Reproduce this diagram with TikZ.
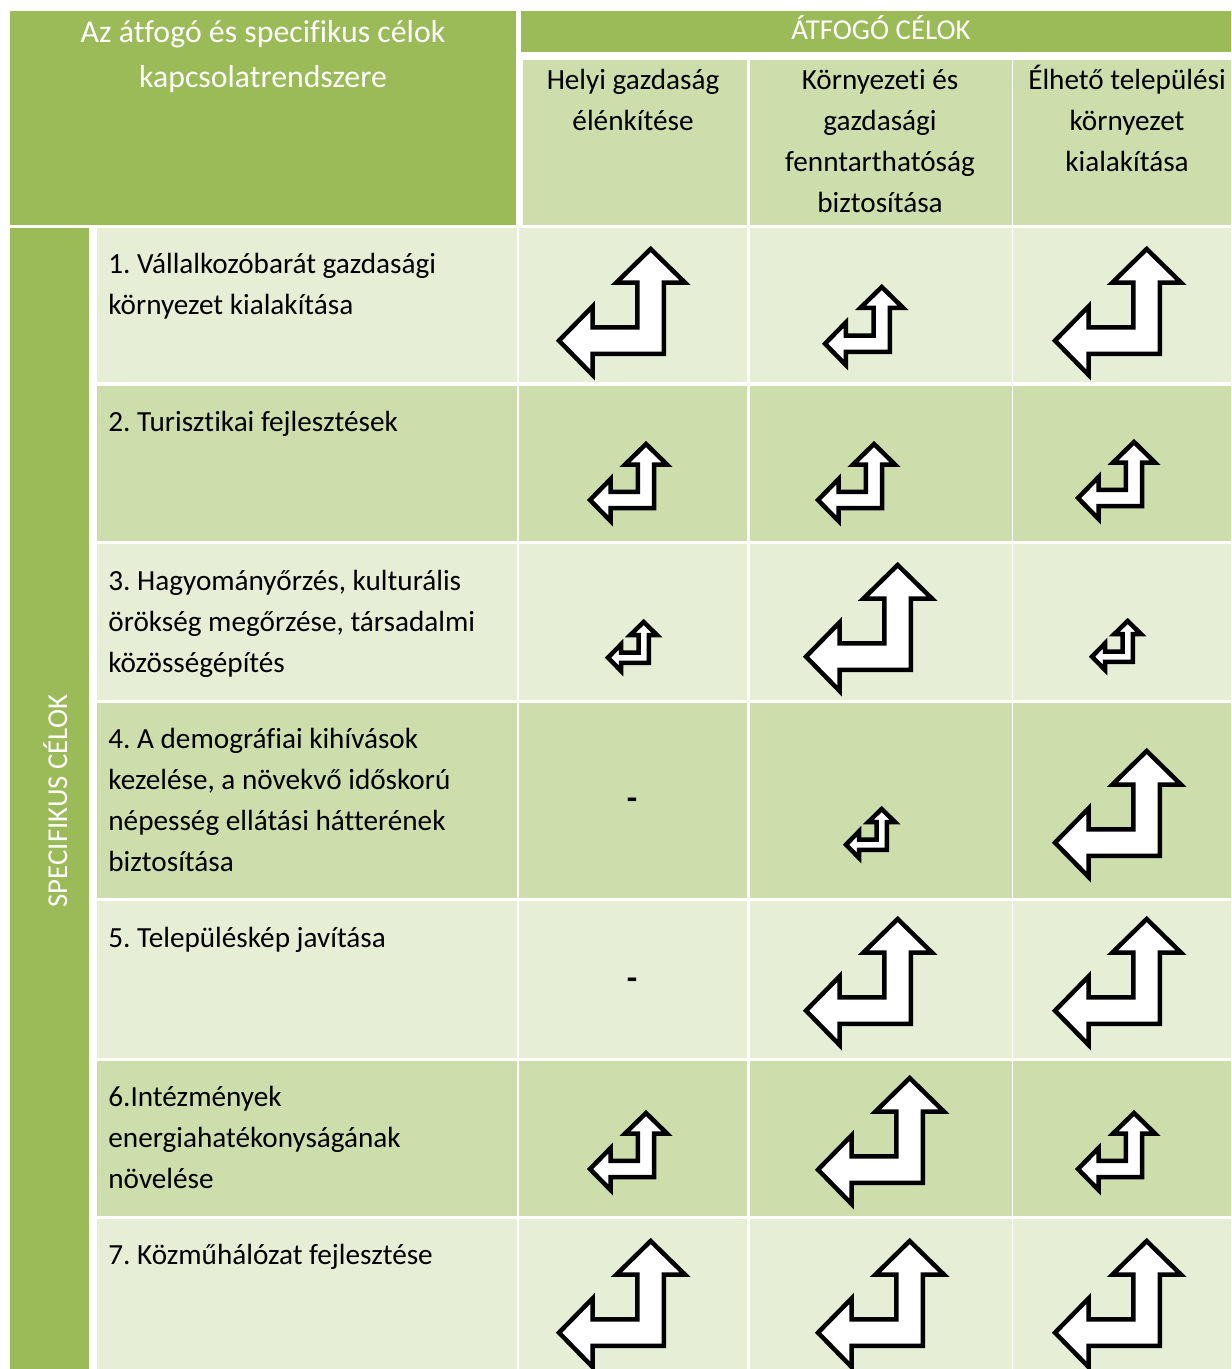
\documentclass[tikz,border=0pt]{standalone}
\usepackage{fontspec}
\setmainfont{Carlito}[RawFeature={-liga;-clig;-dlig;-calt}]
\frenchspacing
\definecolor{dkg}{HTML}{9BBB59}
\definecolor{mdg}{HTML}{CDDDAC}
\definecolor{ltg}{HTML}{E6EED5}
\tikzset{
  arrowshp/.style={draw=black, fill=white, line width=2.25pt, line join=miter},
  bodytxt/.style={font=\fontsize{14.6}{20.5}\selectfont, inner sep=0pt, align=left, anchor=north west, text=black},
  colhead/.style={font=\fontsize{14.6}{20.5}\selectfont, inner sep=0pt, align=center, anchor=north, text=black},
  maintitle/.style={font=\fontsize{15.9}{22.8}\selectfont, inner sep=0pt, align=center, anchor=north, text=white},
  bandtitle/.style={font=\fontsize{14.4}{18}\selectfont, inner sep=0pt, anchor=base, text=white},
  dashtxt/.style={font=\fontsize{17}{20.5}\selectfont\bfseries, inner sep=0pt, anchor=base, text=black}
}
\newcommand\luarrow[3]{%
  \begin{scope}[shift={(#1+3,#2+3)},scale=#3-6]
    \draw[arrowshp] (0,0.7275) -- (0.267,0.455) -- (0.267,0.6225) -- (0.6225,0.6225)
      -- (0.6225,0.267) -- (0.455,0.267) -- (0.7275,0) -- (1,0.267) -- (0.8325,0.267)
      -- (0.8325,0.8325) -- (0.267,0.8325) -- (0.267,1) -- cycle;
  \end{scope}}
\newcommand\tabrow[3]{%
  \fill[#3] (97,#1) rectangle (517,#2);
  \fill[#3] (519,#1) rectangle (747,#2);
  \fill[#3] (750,#1) rectangle (1012,#2);
  \fill[#3] (1013,#1) rectangle (1231,#2);}
\begin{document}
\begin{tikzpicture}[x=0.5pt,y=-0.5pt]
\useasboundingbox (0,0) rectangle (1231,1369);
\fill[white] (0,0) rectangle (1231,1369);
% header
\fill[dkg] (10,11) rectangle (516,225);
\fill[dkg] (521,11) rectangle (1231,52);
\fill[mdg] (523,60) rectangle (747,225);
\fill[mdg] (750,60) rectangle (1012,225);
\fill[mdg] (1013,60) rectangle (1231,225);
% left column
\fill[dkg] (10,228) rectangle (89,1369);
% rows
\tabrow{228}{382}{ltg}
\tabrow{386}{541}{mdg}
\tabrow{544}{700}{ltg}
\tabrow{703}{898}{mdg}
\tabrow{901}{1058}{ltg}
\tabrow{1061}{1216}{mdg}
\tabrow{1219}{1369}{ltg}
% header texts
\node[maintitle] (title) at (263,10) {\rule{0pt}{16pt}Az átfogó és specifikus célok\\kapcsolatrendszere};
\node[bandtitle] (atfogo) at (881,40) {ÁTFOGÓ CÉLOK};
\node[bandtitle, rotate=90] (specif) at (67,801) {SPECIFIKUS CÉLOK};
\node[colhead] (h1) at (633,61) {\rule{0pt}{14pt}Helyi gazdaság\\élénkítése};
\node[colhead] (h2) at (880,61) {\rule{0pt}{14pt}Környezeti és\\gazdasági\\fenntarthatóság\\biztosítása};
\node[colhead] (h3) at (1127,61) {\rule{0pt}{14pt}Élhető települési\\környezet\\kialakítása};
% row texts
\node[bodytxt] (r1) at (108,245) {\rule{0pt}{14pt}1. Vállalkozóbarát gazdasági\\környezet kialakítása};
\node[bodytxt] (r2) at (108,403) {\rule{0pt}{14pt}2. Turisztikai fejlesztések};
\node[bodytxt] (r3) at (108,562) {\rule{0pt}{14pt}3. Hagyományőrzés, kulturális\\örökség megőrzése, társadalmi\\közösségépítés};
\node[bodytxt] (r4) at (108,720) {\rule{0pt}{14pt}4. A demográfiai kihívások\\kezelése, a növekvő időskorú\\népesség ellátási hátterének\\biztosítása};
\node[bodytxt] (r5) at (108,919) {\rule{0pt}{14pt}5. Településkép javítása};
\node[bodytxt] (r6) at (108,1078) {\rule{0pt}{14pt}6.Intézmények\\energiahatékonyságának\\növelése};
\node[bodytxt] (r7) at (108,1236) {\rule{0pt}{14pt}7. Közműhálózat fejlesztése};
% dashes
\node[dashtxt] (d4) at (632,809) {-};
\node[dashtxt] (d5) at (632,989) {-};
% arrows
\luarrow{556}{246}{132}
\luarrow{822}{284}{84}
\luarrow{1052}{246}{132}
\luarrow{587}{441}{83}
\luarrow{815}{441}{83}
\luarrow{1075}{439}{83}
\luarrow{605}{619}{55}
\luarrow{803}{562}{132}
\luarrow{1089}{618}{55}
\luarrow{843}{806}{55}
\luarrow{1052}{748}{132}
\luarrow{803}{916}{132}
\luarrow{1052}{916}{132}
\luarrow{587}{1110}{83}
\luarrow{815}{1075}{132}
\luarrow{1075}{1110}{83}
\luarrow{556}{1238}{132}
\luarrow{815}{1238}{132}
\luarrow{1052}{1238}{132}
\end{tikzpicture}
\end{document}
